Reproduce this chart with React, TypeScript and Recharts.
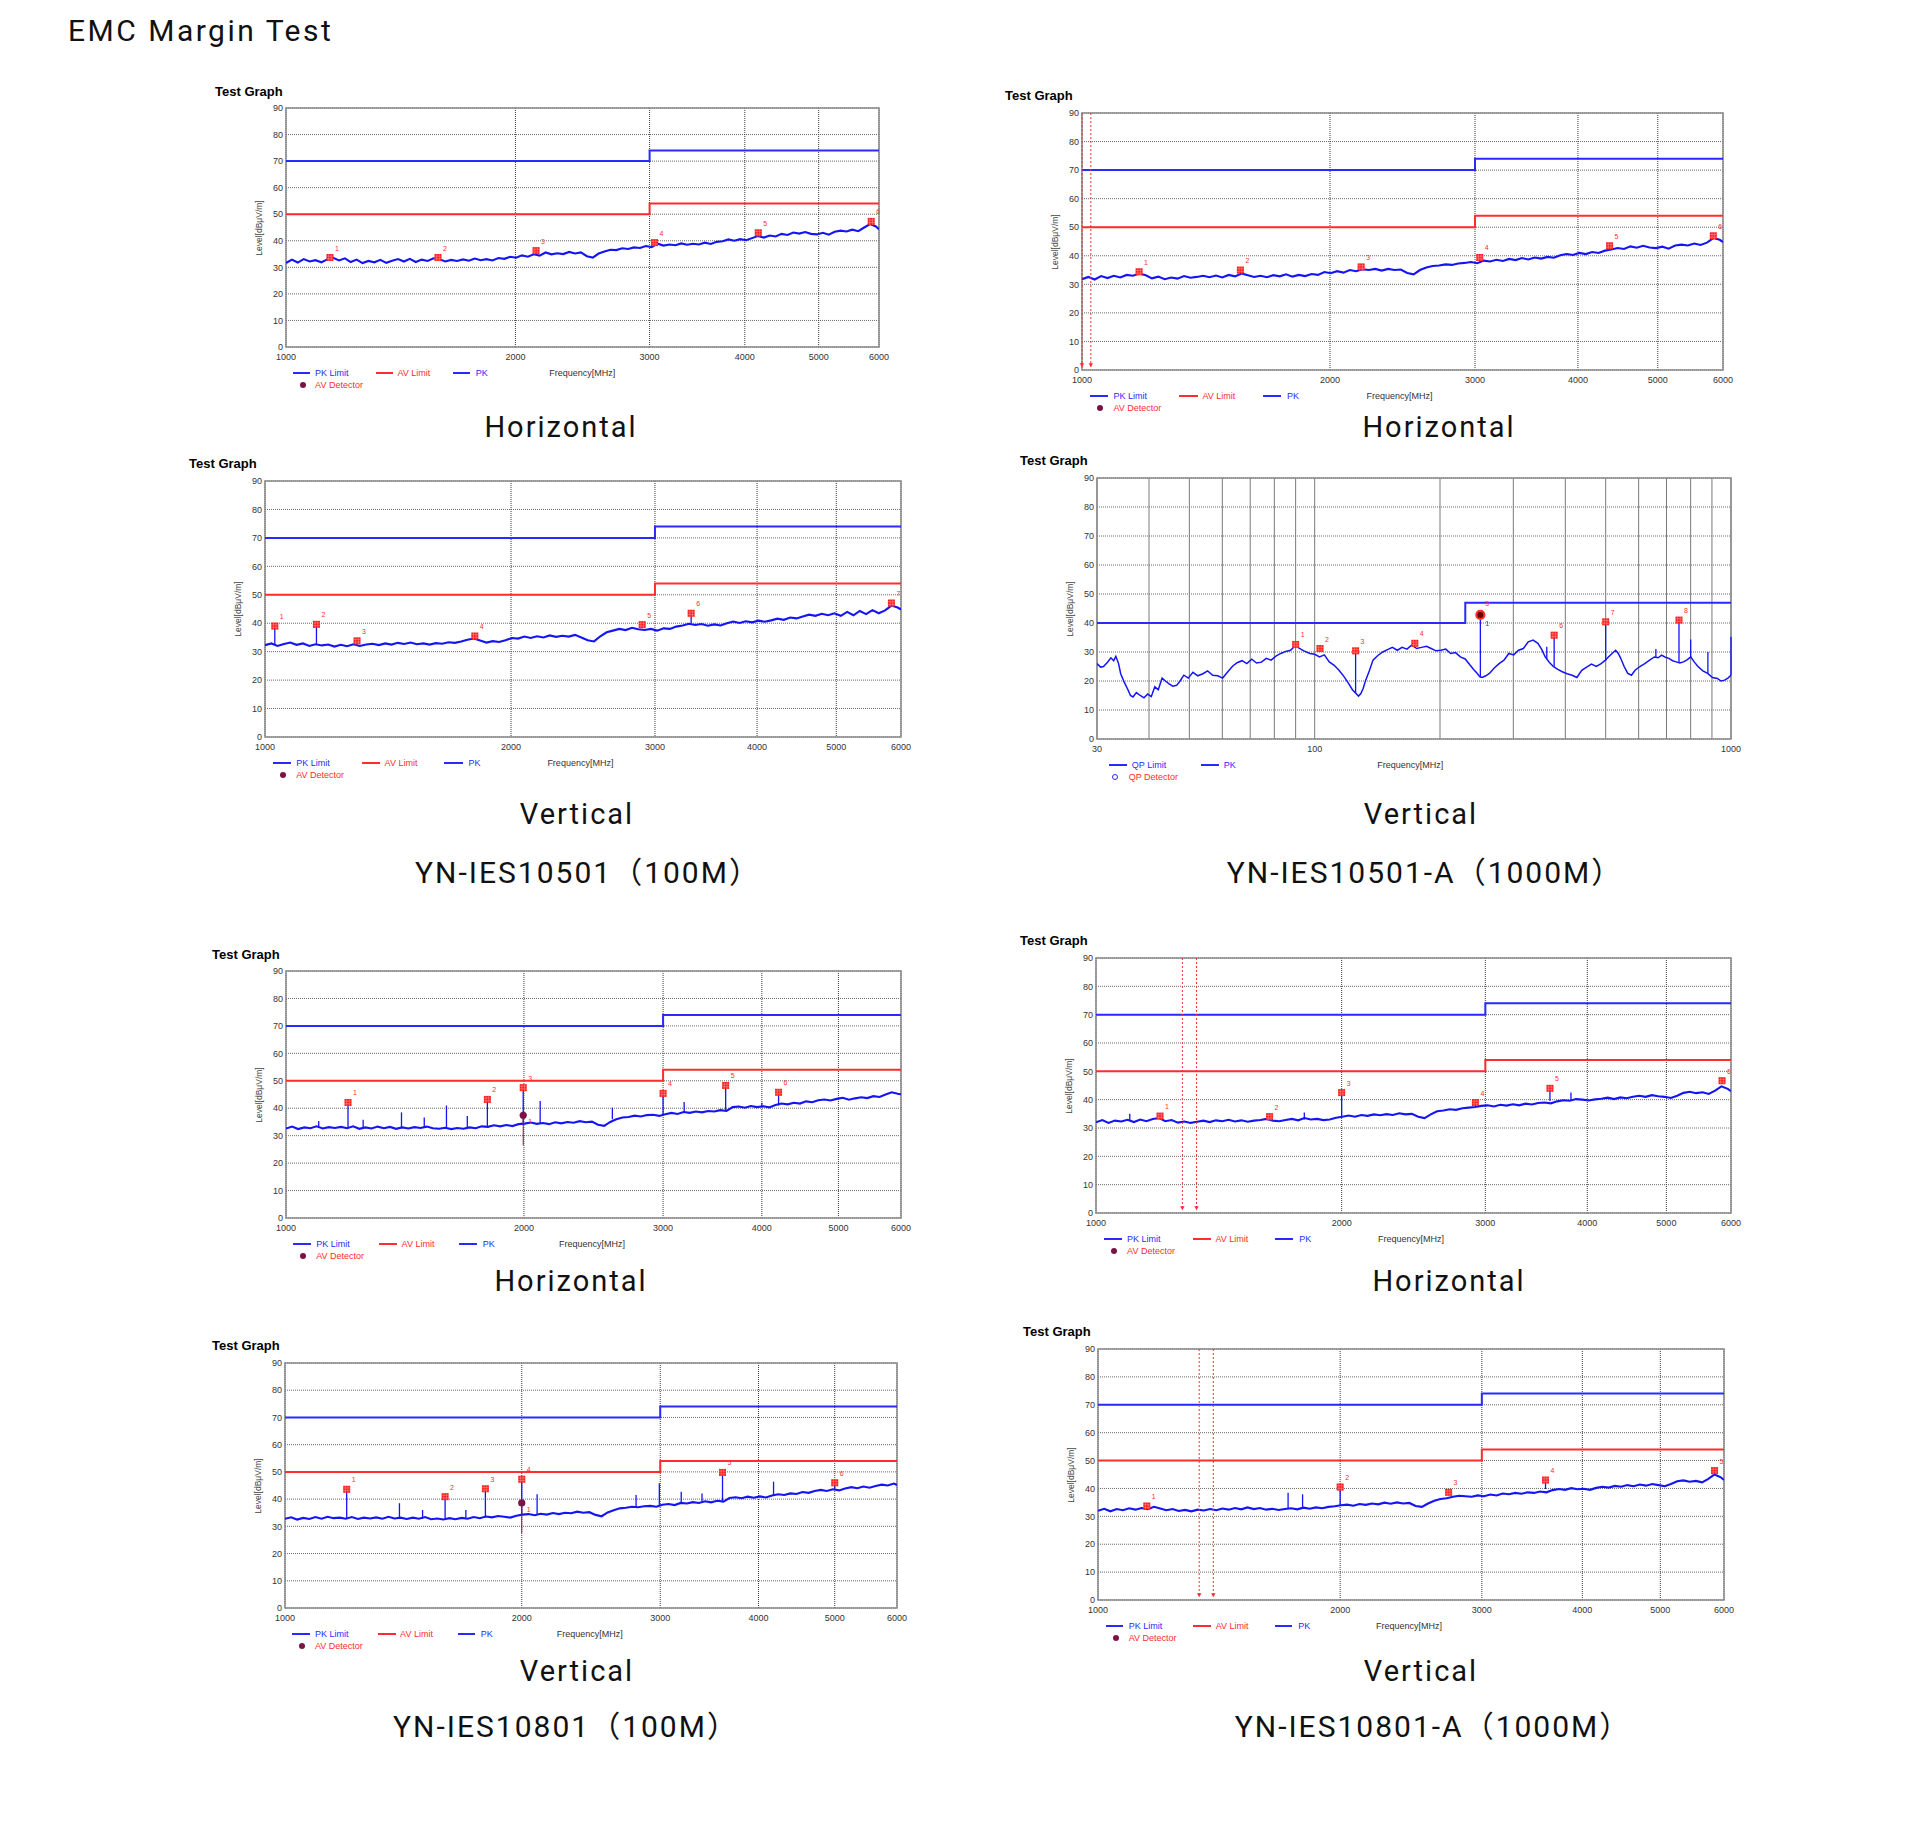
import React from "react";
import {
  ComposedChart,
  Line,
  XAxis,
  YAxis,
  CartesianGrid,
  ReferenceLine,
  ReferenceDot,
  ReferenceArea,
} from "recharts";

// ---- axes ----
const Y_TICKS = [0, 10, 20, 30, 40, 50, 60, 70, 80, 90];
const HI_TICKS = [1000, 2000, 3000, 4000, 5000, 6000];
const LO_TICKS = [30, 40, 50, 60, 70, 80, 90, 100, 200, 300, 400, 500, 600, 700, 800, 900, 1000];
const LO_LABELS = [30, 100, 1000];

// ---- limits ----
const PK_LIMIT = [[1000, 70], [3000, 70], [3000, 74], [6000, 74]];
const AV_LIMIT = [[1000, 50], [3000, 50], [3000, 54], [6000, 54]];
const QP_LIMIT = [[30, 40], [230, 40], [230, 47], [1000, 47]];

// ---- 1-6 GHz scan frequencies (MHz) ----
const FREQ_HI = [
  1000, 1018, 1036, 1055, 1074, 1093, 1113, 1133, 1153, 1174,
  1195, 1216, 1238, 1260, 1283, 1306, 1330, 1354, 1378, 1403,
  1428, 1454, 1480, 1507, 1534, 1562, 1590, 1618, 1647, 1677,
  1707, 1738, 1769, 1801, 1833, 1866, 1900, 1934, 1969, 2004,
  2040, 2077, 2114, 2152, 2191, 2230, 2270, 2311, 2353, 2395,
  2438, 2482, 2527, 2572, 2618, 2665, 2713, 2762, 2812, 2862,
  2914, 2966, 3019, 3074, 3129, 3185, 3243, 3301, 3360, 3421,
  3482, 3545, 3609, 3674, 3740, 3807, 3875, 3945, 4016, 4088,
  4162, 4237, 4313, 4391, 4470, 4550, 4632, 4715, 4800, 4886,
  4974, 5064, 5155, 5248, 5342, 5438, 5536, 5636, 5737, 5840, 5945, 6000,
];

const PK_A = [
  31.6, 32.9, 31.8, 33.1, 32.2, 32.7, 31.9, 33.0, 33.6, 32.6,
  33.4, 32.0, 32.9, 31.6, 32.4, 31.9, 32.8, 31.7, 32.5, 33.1,
  32.2, 33.2, 32.0, 32.9, 32.4, 33.4, 33.0, 32.2, 32.8, 32.4,
  33.0, 32.5, 33.3, 32.7, 33.1, 32.6, 33.5, 33.2, 34.0, 33.6,
  34.5, 34.0, 34.9, 34.4, 35.6, 34.9, 35.3, 35.0, 35.8, 35.2,
  35.6, 34.2, 33.7, 35.2, 36.0, 36.6, 36.5, 37.2, 36.9, 37.5,
  37.3, 38.0, 37.6, 38.9, 38.2, 38.6, 38.3, 39.0, 38.5, 38.9,
  38.6, 39.3, 38.8, 39.6, 39.8, 40.5, 40.0, 40.6, 40.2, 41.0,
  41.8, 41.2, 42.0, 41.6, 42.6, 42.2, 43.1, 42.7, 43.3, 42.6,
  42.4, 43.0, 42.3, 43.4, 43.8, 43.5, 44.2, 43.6, 45.0, 46.3, 45.4, 44.3,
];
const PK_B = [
  31.8, 32.6, 31.7, 32.9, 32.2, 33.0, 32.4, 33.3, 33.0, 33.8,
  33.2, 32.1, 32.7, 31.8, 32.4, 32.0, 32.9, 32.3, 32.6, 33.0,
  32.5, 33.1, 32.4, 33.3, 32.8, 33.8, 33.2, 32.6, 33.0, 32.5,
  33.2, 32.8, 33.5, 32.7, 33.3, 32.9, 33.6, 33.3, 34.3, 33.9,
  34.6, 34.1, 35.0, 34.6, 35.3, 35.0, 35.4, 34.8, 35.4, 35.0,
  35.2, 34.0, 33.5, 35.0, 35.9, 36.4, 36.6, 37.0, 36.8, 37.3,
  37.5, 37.8, 37.4, 38.3, 38.0, 38.6, 38.2, 38.9, 38.5, 39.2,
  38.7, 39.4, 39.0, 39.6, 39.3, 40.2, 40.6, 40.3, 41.0, 40.6,
  41.3, 41.0, 41.8, 42.2, 42.7, 42.4, 43.3, 42.8, 43.5, 42.9,
  42.7, 43.2, 42.5, 43.6, 43.9, 43.6, 44.3, 43.8, 44.6, 46.2, 45.6, 44.8,
];
const PK_C = [
  32.3, 32.9, 32.0, 32.7, 33.2, 32.4, 32.9, 32.0, 32.6, 32.2,
  32.5, 31.8, 32.4, 31.9, 32.6, 32.0, 32.5, 32.8, 32.3, 32.9,
  32.5, 33.1, 32.7, 33.2, 32.6, 32.9, 32.5, 33.0, 32.8, 33.3,
  33.1, 33.6, 34.2, 34.6, 33.9, 33.2, 33.7, 33.4, 34.0, 34.8,
  34.6, 35.3, 34.8, 35.4, 35.0, 35.7, 35.2, 35.6, 35.3, 35.9,
  35.0, 34.0, 33.6, 35.4, 36.8, 37.4, 38.0, 37.6, 38.4, 37.9,
  37.6, 38.0, 37.4, 38.2, 38.0, 38.8, 39.2, 39.8, 39.4, 39.7,
  39.1, 39.6, 39.2, 40.0, 40.6, 40.1, 40.7, 40.3, 40.9, 40.5,
  41.0, 41.6, 41.2, 42.0, 41.7, 42.4, 43.0, 42.6, 43.3, 42.8,
  43.5, 42.6, 44.0, 42.8, 44.3, 43.2, 44.6, 43.5, 44.5, 46.2, 45.5, 44.8,
];
const PK_E = [
  32.6, 33.3, 32.4, 33.0, 32.7, 33.4, 32.6, 33.1, 32.8, 33.2,
  32.7, 33.4, 32.5, 33.0, 32.6, 33.3, 32.7, 33.2, 32.5, 33.0,
  32.6, 33.1, 32.8, 33.3, 32.7, 32.5, 32.9, 32.4, 32.8, 32.5,
  33.0, 32.7, 33.4, 33.2, 33.8, 33.4, 33.9, 33.5, 34.2, 34.4,
  34.8, 34.3, 34.6, 34.2, 34.9, 34.5, 35.0, 34.7, 35.3, 34.9,
  35.1, 34.0, 33.6, 35.0, 36.0, 36.6, 36.8, 37.3, 37.0, 37.5,
  37.6, 37.2, 37.8, 38.3, 37.9, 38.6, 38.3, 38.8, 38.5, 39.0,
  38.8, 39.3, 39.0, 40.4, 40.6, 40.2, 40.8, 40.4, 40.7, 40.3,
  41.2, 41.7, 41.4, 42.0, 41.7, 42.5, 42.2, 42.9, 43.2, 42.8,
  43.4, 43.8, 43.1, 43.6, 44.0, 43.7, 44.4, 44.1, 45.0, 45.8, 45.3, 45.1,
];
const PK_F = [
  32.0, 32.8, 31.8, 32.6, 32.3, 32.9, 32.1, 33.0, 32.4, 33.2,
  33.5, 32.4, 32.8, 31.9, 32.3, 31.8, 32.2, 32.6, 32.1, 32.7,
  32.4, 32.9, 32.3, 32.7, 32.2, 32.6, 32.8, 33.2, 32.6, 32.4,
  32.8, 33.2, 32.7, 33.5, 33.0, 33.2, 32.8, 33.0, 33.6, 34.0,
  34.4, 34.0, 34.6, 34.3, 34.8, 34.5, 34.9, 34.6, 35.2, 34.8,
  35.0, 34.0, 33.5, 34.8, 35.9, 36.2, 36.6, 36.4, 37.0, 37.2,
  37.4, 37.8, 38.0, 37.6, 38.2, 37.9, 38.4, 38.0, 38.6, 38.3,
  38.8, 39.0, 38.7, 39.4, 39.8, 39.6, 40.2, 40.0, 39.7, 40.1,
  40.3, 40.7, 40.2, 40.8, 40.5, 41.0, 41.4, 41.0, 41.6, 41.2,
  41.0, 40.6, 41.4, 42.4, 42.8, 42.3, 42.6, 42.0, 43.2, 44.7, 43.8, 43.0,
];
const PK_G = [
  32.8, 33.3, 32.5, 33.1, 32.7, 33.4, 32.8, 33.5, 33.0, 33.2,
  32.8, 33.4, 32.7, 33.2, 32.9, 33.3, 32.8, 33.5, 32.9, 33.2,
  32.7, 33.2, 32.8, 33.4, 32.6, 32.9, 32.5, 33.0, 32.6, 33.1,
  32.8, 33.4, 33.0, 33.6, 33.3, 33.8, 33.5, 33.2, 33.9, 34.3,
  34.5, 34.1, 34.6, 34.3, 34.9, 34.5, 35.0, 34.8, 35.4, 35.0,
  35.2, 34.2, 33.7, 35.1, 35.9, 36.6, 36.8, 37.2, 37.0, 37.4,
  37.5, 37.2, 37.9, 38.2, 37.8, 38.6, 38.4, 38.9, 38.6, 39.2,
  38.8, 39.4, 39.1, 40.4, 40.7, 40.3, 40.9, 40.5, 41.0, 40.6,
  41.3, 41.8, 41.5, 42.1, 41.9, 42.6, 42.3, 43.0, 43.4, 43.0,
  43.6, 43.2, 43.9, 44.4, 44.0, 44.6, 44.2, 44.8, 45.3, 45.0, 45.7, 45.2,
];
const PK_H = [
  32.0, 32.7, 31.8, 32.6, 32.2, 32.9, 32.4, 33.0, 32.6, 33.4,
  32.8, 32.2, 32.6, 31.9, 32.3, 31.8, 32.4, 32.1, 32.6, 32.2,
  32.8, 32.4, 33.0, 32.5, 33.2, 32.6, 33.0, 32.4, 32.7, 32.3,
  32.6, 32.9, 32.5, 33.1, 32.7, 33.2, 32.9, 33.4, 33.6, 34.0,
  34.2, 33.8, 34.4, 34.1, 34.6, 34.3, 34.9, 34.5, 35.0, 34.6,
  34.8, 33.7, 33.4, 34.6, 35.6, 36.2, 36.5, 37.0, 37.4, 37.2,
  37.0, 37.5, 37.2, 37.8, 37.5, 38.2, 37.9, 38.4, 38.1, 38.6,
  38.4, 38.9, 38.6, 39.4, 39.8, 39.5, 40.1, 39.7, 39.9, 39.5,
  40.2, 40.6, 40.3, 40.9, 40.6, 41.2, 40.8, 41.4, 41.0, 41.6,
  41.2, 40.8, 41.6, 42.6, 42.9, 42.4, 42.7, 42.2, 43.4, 45.0, 44.0, 43.0,
];

// ---- 30-1000 MHz scan ----
const FREQ_LO = [
  30, 30.6, 31.1, 31.8, 32.4, 32.9, 33.3, 33.8, 34.2, 34.9, 35.6, 36.1, 36.6, 37.3, 38.1,
  38.9, 39.7, 40.5, 41.3, 42.1, 43.0, 43.8, 44.7, 45.6, 46.6, 47.5, 48.5, 49.7, 51.0, 52.4,
  53.9, 55.3, 56.9, 58.5, 60.1, 61.7, 63.4, 65.1, 66.9, 68.7, 70.6, 72.5, 74.5, 76.5, 78.6,
  80.7, 82.9, 85.2, 87.5, 89.3, 91.1, 94.2, 97.4, 100, 102.7, 105.5, 108.4, 111.4, 114.4, 117.5,
  120.7, 123.2, 125.7, 127.4, 129.1, 130.8, 132.6, 135.3, 138.1, 141.8, 145.7, 149.6, 153.7, 157.9, 162.2,
  166.6, 171.1, 175.8, 180.6, 185.5, 190.5, 195.7, 201, 206.5, 212.1, 217.9, 223.8, 229.9, 236.1, 240.9,
  245.8, 249.1, 252.5, 257.6, 262.8, 270, 277.3, 284.9, 292.6, 300.6, 308.7, 317.1, 325.8, 334.6, 343.7,
  350.7, 357.9, 365.9, 374.3, 383.6, 393.2, 404, 415.3, 426.5, 438, 450, 462.2, 474.8, 487.6, 497.5,
  507.6, 518, 528.3, 535.5, 542.7, 553.8, 565, 576.6, 588.3, 604.2, 620.6, 637.4, 654.6, 668, 681.5,
  695.4, 709.5, 723.9, 738.6, 753.6, 768.8, 784.4, 800.3, 816.6, 833.1, 855.7, 878.8, 902.7, 927.2, 946.2,
  965.4, 983, 1000,
];
const PK_D = [
  26.0, 24.8, 25.0, 26.5, 28.0, 27.0, 28.5, 26.0, 22.5, 19.5, 17.0, 15.0, 14.5, 16.0, 15.0,
  14.2, 15.5, 14.6, 18.0, 17.0, 21.0, 20.0, 19.0, 18.2, 18.5, 20.0, 22.0, 21.0, 23.0, 21.8,
  22.5, 23.5, 22.0, 21.8, 21.0, 23.0, 25.0, 26.3, 27.0, 26.0, 27.5, 26.2, 26.5, 27.8, 27.2,
  28.6, 29.5, 30.2, 30.6, 31.8, 31.6, 30.4, 29.5, 29.2, 28.3, 29.0, 26.6, 25.4, 23.7, 21.6,
  19.1, 17.0, 15.7, 14.8, 15.7, 17.5, 20.3, 23.5, 27.2, 28.8, 30.0, 30.8, 31.6, 30.6, 31.6,
  31.0, 32.4, 31.2, 31.6, 32.0, 31.2, 30.4, 30.6, 31.0, 29.5, 29.8, 28.3, 27.6, 25.5, 24.0,
  22.6, 21.5, 21.2, 21.8, 22.6, 24.5, 26.0, 27.2, 29.5, 29.0, 30.6, 31.2, 33.5, 34.1, 33.0,
  31.0, 28.3, 26.5, 25.0, 24.0, 23.2, 22.5, 22.0, 21.2, 23.7, 24.8, 25.8, 25.0, 26.0, 27.0,
  28.3, 29.5, 30.6, 29.6, 28.0, 25.0, 22.6, 22.0, 23.7, 25.0, 26.0, 27.2, 28.3, 28.0, 28.9,
  28.2, 27.8, 27.0, 26.6, 26.2, 26.6, 27.3, 28.3, 26.5, 25.0, 23.5, 22.6, 21.2, 20.9, 20.0,
  20.3, 21.0, 22.0,
];

// ---- narrow emissions: [freq, floor, peak] ----
const SPIKES_C = [[1028, 32.6, 39.0], [1156, 32.8, 39.6], [3322, 40.0, 43.5]];
const SPIKES_D = [
  [125.4, 15.7, 30.4], [250, 21.2, 42.8], [361, 27.5, 31.8], [376, 25.0, 35.8], [500, 27.0, 40.4],
  [660, 28.3, 31.0], [750, 26.4, 41.0], [800, 28.3, 34.3], [880, 22.6, 30.0], [1000, 22.0, 35.3],
];
const SPIKES_E = [
  [1100, 33.0, 35.3], [1198, 32.8, 42.1], [1252, 33.0, 35.8], [1400, 33.0, 38.5], [1496, 32.8, 36.6],
  [1596, 32.7, 41.0], [1696, 33.0, 37.2], [1798, 33.3, 43.2], [1996, 34.0, 47.5], [2097, 34.5, 42.6],
  [2588, 36.0, 40.2], [3000, 37.5, 45.4], [3190, 38.3, 42.3], [3600, 39.3, 48.3], [4000, 40.5, 42.0],
  [4200, 41.0, 45.8],
];
const SPIKES_F = [[1100, 32.5, 35.0], [1800, 33.0, 35.5], [2000, 34.0, 42.5], [3600, 39.5, 44.0], [3820, 40.0, 42.5]];
const SPIKES_G = [
  [1198, 33.0, 43.6], [1398, 33.0, 38.5], [1496, 32.8, 36.0], [1598, 32.8, 40.9], [1698, 33.0, 36.0],
  [1798, 33.3, 43.8], [2000, 34.3, 47.3], [2092, 34.5, 41.8], [2795, 37.0, 41.5], [2992, 37.5, 45.8],
  [3190, 38.4, 42.7], [3390, 39.0, 42.1], [3600, 39.4, 49.8], [4180, 41.3, 46.4], [5000, 43.5, 46.0],
];
const SPIKES_H = [[1723, 33.0, 38.5], [1796, 33.0, 37.9], [2000, 34.0, 40.5], [3600, 39.8, 43.0]];

// ---- marker points: [freq, level, no.] ----
const MARK_A = [[1142, 33.7, "1"], [1583, 33.7, "2"], [2129, 36.3, "3"], [3045, 39.3, "4"], [4166, 43.0, "5"], [5860, 47.3, "6"]];
const MARK_B = [[1173, 34.4, "1"], [1557, 35.0, "2"], [2182, 36.1, "3"], [3040, 39.4, "4"], [4370, 43.5, "5"], [5840, 47.0, "6"]];
const MARK_C = [[1028, 39.0, "1"], [1156, 39.6, "2"], [1296, 33.8, "3"], [1806, 35.5, "4"], [2894, 39.5, "5"], [3322, 43.5, "6"], [5840, 47.1, "7"]];
const MARK_D = [[90, 32.6, "1"], [103, 31.2, "2"], [125.4, 30.4, "3"], [174, 33.0, "4"], [376, 35.8, "6"], [500, 40.4, "7"], [750, 41.0, "8"]];
const MARK_E = [[1198, 42.1, "1"], [1798, 43.2, "2"], [1996, 47.5, "3"], [3000, 45.4, "4"], [3600, 48.3, "5"], [4200, 45.8, "6"]];
const MARK_F = [[1198, 34.2, "1"], [1632, 34.0, "2"], [2000, 42.5, "3"], [2917, 39.0, "4"], [3600, 44.0, "5"], [5850, 46.7, "6"]];
const MARK_G = [[1198, 43.6, "1"], [1598, 40.9, "2"], [1798, 43.8, "3"], [2000, 47.3, "4"], [3600, 49.8, "5"], [5000, 46.0, "6"]];
const MARK_H = [[1150, 33.7, "1"], [2000, 40.5, "2"], [2728, 38.6, "3"], [3600, 43.0, "4"], [5840, 46.4, "5"]];

// detectors: [freq, level, floor]
const AVDET_E = [1996, 37.4, 26.5];
const AVDET_G = [2000, 38.6, 27.5];
const QPDET_D = [250, 42.8];

// marker cursors (MHz)
const CURSOR_B = [1000, 1025];
const CURSOR_F = [1276, 1328];
const CURSOR_H = [1336, 1391];

const CAPTION_TEXT = [
  "Horizontal", "Horizontal", "Vertical", "Vertical",
  "YN-IES10501（100M）", "YN-IES10501-A（1000M）",
  "Horizontal", "Horizontal", "Vertical", "Vertical",
  "YN-IES10801（100M）", "YN-IES10801-A（1000M）",
];
const CAPTION_POS = [
  [561, 427], [1439, 427], [577, 814], [1421, 814],
  [588, 873], [1425, 873],
  [571, 1281], [1449, 1281], [577, 1671], [1421, 1671],
  [566, 1727], [1433, 1727],
];

const BLUE = "#2a2aff";
const TRACE = "#1414f5";
const RED = "#ff2d2d";
const SANS = "'Liberation Sans', Arial, sans-serif";
const ROBOTO = "Roboto, 'Noto Sans CJK SC', sans-serif";

const pts = (xs: number[], ys: number[]) => xs.map((f, i) => ({ f, v: ys[i] }));
const pairs = (arr: number[][]) => arr.map(([f, v]) => ({ f, v }));

const CHARTS = [
  { plot: { x: 286, y: 108, w: 593, h: 239 }, tg: [-71, -17], freqs: FREQ_HI, levels: PK_A, spikes: [], markers: MARK_A },
  { plot: { x: 1082, y: 113, w: 641, h: 257 }, tg: [-77, -18], freqs: FREQ_HI, levels: PK_B, spikes: [], markers: MARK_B, cursors: CURSOR_B },
  { plot: { x: 265, y: 481, w: 636, h: 256 }, tg: [-76, -18], freqs: FREQ_HI, levels: PK_C, spikes: SPIKES_C, markers: MARK_C },
  { plot: { x: 1097, y: 478, w: 634, h: 261 }, tg: [-77, -18], low: true, freqs: FREQ_LO, levels: PK_D, spikes: SPIKES_D, markers: MARK_D, qp: QPDET_D },
  { plot: { x: 286, y: 971, w: 615, h: 247 }, tg: [-74, -17], freqs: FREQ_HI, levels: PK_E, spikes: SPIKES_E, markers: MARK_E, av: AVDET_E },
  { plot: { x: 1096, y: 958, w: 635, h: 255 }, tg: [-76, -18], freqs: FREQ_HI, levels: PK_F, spikes: SPIKES_F, markers: MARK_F, cursors: CURSOR_F },
  { plot: { x: 285, y: 1363, w: 612, h: 245 }, tg: [-73, -18], freqs: FREQ_HI, levels: PK_G, spikes: SPIKES_G, markers: MARK_G, av: AVDET_G },
  { plot: { x: 1098, y: 1349, w: 626, h: 251 }, tg: [-75, -18], freqs: FREQ_HI, levels: PK_H, spikes: SPIKES_H, markers: MARK_H, cursors: CURSOR_H },
];

const markerShape = (label: string) => (p: any) => {
  const { cx, cy } = p;
  return (
    <g>
      <rect x={cx - 3.5} y={cy - 3.5} width={7} height={7} fill="#ff1a1a" />
      <path
        d={`M${cx - 1.3} ${cy - 3.5}V${cy + 3.5}M${cx + 1.3} ${cy - 3.5}V${cy + 3.5}M${cx - 3.5} ${cy - 1.3}H${cx + 3.5}M${cx - 3.5} ${cy + 1.3}H${cx + 3.5}`}
        stroke="#ff9c9c"
        strokeWidth={0.5}
      />
      <text x={cx + 5} y={cy - 7} fontSize={7} fill={RED} fontFamily={SANS}>{label}</text>
    </g>
  );
};

const avShape = (p: any) => (
  <g>
    <circle cx={p.cx} cy={p.cy} r={3.6} fill="#7a1446" />
    <text x={p.cx + 5} y={p.cy + 9} fontSize={7} fill={RED} fontFamily={SANS}>1</text>
  </g>
);

const qpShape = (p: any) => (
  <g>
    <circle cx={p.cx} cy={p.cy} r={4} fill="#600" stroke={RED} strokeWidth={2.2} />
    <text x={p.cx + 5} y={p.cy - 9} fontSize={7} fill={RED} fontFamily={SANS}>5</text>
    <text x={p.cx + 5} y={p.cy + 11} fontSize={7} fill={BLUE} fontFamily={SANS}>1</text>
  </g>
);

const arrowShape = (p: any) => (
  <path d={`M${p.cx - 2.2} ${p.cy - 4}L${p.cx + 2.2} ${p.cy - 4}L${p.cx} ${p.cy}Z`} fill={RED} />
);

function LegendLine({ x, y, color, len }: any) {
  return <div style={{ position: "absolute", left: x, top: y - 1, width: len, height: 2, background: color }} />;
}

function LegendText({ x, y, color, text }: any) {
  return (
    <div style={{ position: "absolute", left: x, top: y, transform: "translateY(-50%)", fontFamily: SANS, fontSize: 9, color, whiteSpace: "nowrap", lineHeight: 1 }}>
      {text}
    </div>
  );
}

function EmcChart({ cfg }: any) {
  const { plot } = cfg;
  const W = plot.w + 60;
  const H = plot.h + 30;
  const domain = cfg.low ? [30, 1000] : [1000, 6000];
  const ticks = cfg.low ? LO_TICKS : HI_TICKS;
  const trace = pts(cfg.freqs, cfg.levels);
  const r1 = plot.h + 10 + 25.5;
  const r2 = plot.h + 10 + 37.5;
  const lx = (fr: number) => 45 + fr * plot.w;
  const len = 17 * (plot.w / 593);
  const tickStyle = { fontSize: 9, fill: "#333", fontFamily: SANS };

  return (
    <div style={{ position: "absolute", left: plot.x - 45, top: plot.y - 10, width: W, height: H + 40 }}>
      <div style={{ position: "absolute", left: 45 + cfg.tg[0], top: 10 + cfg.tg[1], transform: "translateY(-50%)", fontFamily: SANS, fontWeight: 700, fontSize: 13, color: "#000", whiteSpace: "nowrap", lineHeight: 1 }}>
        Test Graph
      </div>
      <div style={{ position: "absolute", left: 45 - 27, top: 10 + plot.h / 2, transform: "translate(-50%,-50%) rotate(-90deg)", fontFamily: SANS, fontSize: 8.5, color: "#444", whiteSpace: "nowrap", lineHeight: 1 }}>
        Level[dBμV/m]
      </div>
      <ComposedChart width={W} height={H} margin={{ top: 10, right: 15, bottom: 0, left: 15 }}>
        <CartesianGrid vertical={false} stroke="#6a6a6a" strokeDasharray="1 1" />
        {cfg.low ? (
          <CartesianGrid horizontal={false} stroke="#7a7a7a" />
        ) : (
          <CartesianGrid horizontal={false} stroke="#3a3a3a" strokeDasharray="1 1" />
        )}
        <XAxis
          type="number"
          dataKey="f"
          scale="log"
          domain={domain}
          ticks={ticks}
          interval={0}
          allowDataOverflow
          axisLine={false}
          tickLine={false}
          tickSize={4}
          tickMargin={3}
          height={20}
          tick={tickStyle}
          tickFormatter={(v: number) => (cfg.low && !LO_LABELS.includes(v) ? "" : String(v))}
        />
        <YAxis
          type="number"
          domain={[0, 90]}
          ticks={Y_TICKS}
          interval={0}
          width={30}
          axisLine={false}
          tickLine={false}
          tickSize={0}
          tickMargin={3}
          tick={tickStyle}
        />
        <ReferenceArea x1={domain[0]} x2={domain[1]} y1={0} y2={90} fill="none" stroke="#8a8a8a" strokeWidth={1.5} />
        {cfg.low ? (
          <Line data={pairs(QP_LIMIT)} dataKey="v" stroke={BLUE} strokeWidth={2} dot={false} activeDot={false} isAnimationActive={false} />
        ) : (
          <Line data={pairs(PK_LIMIT)} dataKey="v" stroke={BLUE} strokeWidth={2} dot={false} activeDot={false} isAnimationActive={false} />
        )}
        {!cfg.low && (
          <Line data={pairs(AV_LIMIT)} dataKey="v" stroke={RED} strokeWidth={2} dot={false} activeDot={false} isAnimationActive={false} />
        )}
        <Line data={trace} dataKey="v" stroke={TRACE} strokeWidth={cfg.low ? 1.5 : 2.1} strokeLinejoin="miter" dot={false} activeDot={false} isAnimationActive={false} />
        {cfg.spikes.map((s: number[], i: number) => (
          <ReferenceLine key={"s" + i} segment={[{ x: s[0], y: s[1] }, { x: s[0], y: s[2] }]} stroke={TRACE} strokeWidth={1.3} />
        ))}
        {(cfg.cursors || []).map((f: number, i: number) => (
          <ReferenceLine key={"c" + i} segment={[{ x: f, y: 90 }, { x: f, y: 1.2 }]} stroke={RED} strokeWidth={1} strokeDasharray="2 2" />
        ))}
        {(cfg.cursors || []).map((f: number, i: number) => (
          <ReferenceDot key={"a" + i} x={f} y={1} r={3} shape={arrowShape} />
        ))}
        {cfg.av && (
          <ReferenceLine segment={[{ x: cfg.av[0], y: cfg.av[2] }, { x: cfg.av[0], y: cfg.av[1] }]} stroke="#8a1a4a" strokeWidth={1} />
        )}
        {cfg.av && <ReferenceDot x={cfg.av[0]} y={cfg.av[1]} r={4} shape={avShape} />}
        {cfg.markers.map((m: any[], i: number) => (
          <ReferenceDot key={"m" + i} x={m[0]} y={m[1]} r={4} shape={markerShape(m[2])} />
        ))}
        {cfg.qp && <ReferenceDot x={cfg.qp[0]} y={cfg.qp[1]} r={4} shape={qpShape} />}
      </ComposedChart>
      {cfg.low ? (
        <>
          <LegendLine x={lx(0.019)} y={r1} color={BLUE} len={len} />
          <LegendText x={lx(0.055)} y={r1} color={BLUE} text="QP Limit" />
          <LegendLine x={lx(0.164)} y={r1} color={BLUE} len={len} />
          <LegendText x={lx(0.2)} y={r1} color={BLUE} text="PK" />
          <LegendText x={lx(0.442)} y={r1} color="#333" text="Frequency[MHz]" />
          <div style={{ position: "absolute", left: lx(0.028) - 3, top: r2 - 3, width: 4, height: 4, border: `1.5px solid ${BLUE}`, borderRadius: "50%" }} />
          <LegendText x={lx(0.05)} y={r2} color={RED} text="QP Detector" />
        </>
      ) : (
        <>
          <LegendLine x={lx(0.012)} y={r1} color={BLUE} len={len} />
          <LegendText x={lx(0.049)} y={r1} color={BLUE} text="PK Limit" />
          <LegendLine x={lx(0.152)} y={r1} color={RED} len={len} />
          <LegendText x={lx(0.188)} y={r1} color={RED} text="AV Limit" />
          <LegendLine x={lx(0.282)} y={r1} color={BLUE} len={len} />
          <LegendText x={lx(0.32)} y={r1} color={BLUE} text="PK" />
          <LegendText x={lx(0.444)} y={r1} color="#333" text="Frequency[MHz]" />
          <div style={{ position: "absolute", left: lx(0.028) - 3, top: r2 - 3, width: 6, height: 6, background: "#7a1446", borderRadius: "50%" }} />
          <LegendText x={lx(0.049)} y={r2} color={RED} text="AV Detector" />
        </>
      )}
    </div>
  );
}

export default function App() {
  return (
    <div style={{ position: "absolute", left: 0, top: 0, width: 1920, height: 1825, background: "#fff", overflow: "hidden" }}>
      <div style={{ position: "absolute", left: 68, top: 31, transform: "translateY(-50%)", fontFamily: ROBOTO, fontSize: 30, letterSpacing: 2.5, color: "#111", whiteSpace: "nowrap", lineHeight: 1 }}>
        EMC Margin Test
      </div>
      {CHARTS.map((c, i) => (
        <EmcChart key={i} cfg={c} />
      ))}
      {CAPTION_TEXT.map((t, i) => (
        <div
          key={"cap" + i}
          style={{
            position: "absolute",
            left: CAPTION_POS[i][0],
            top: CAPTION_POS[i][1],
            transform: "translate(-50%,-50%)",
            fontFamily: ROBOTO,
            fontSize: i === 4 || i === 5 || i === 10 || i === 11 ? 30 : 29,
            letterSpacing: 2,
            color: "#111",
            whiteSpace: "nowrap",
            lineHeight: 1,
          }}
        >
          {t}
        </div>
      ))}
    </div>
  );
}
